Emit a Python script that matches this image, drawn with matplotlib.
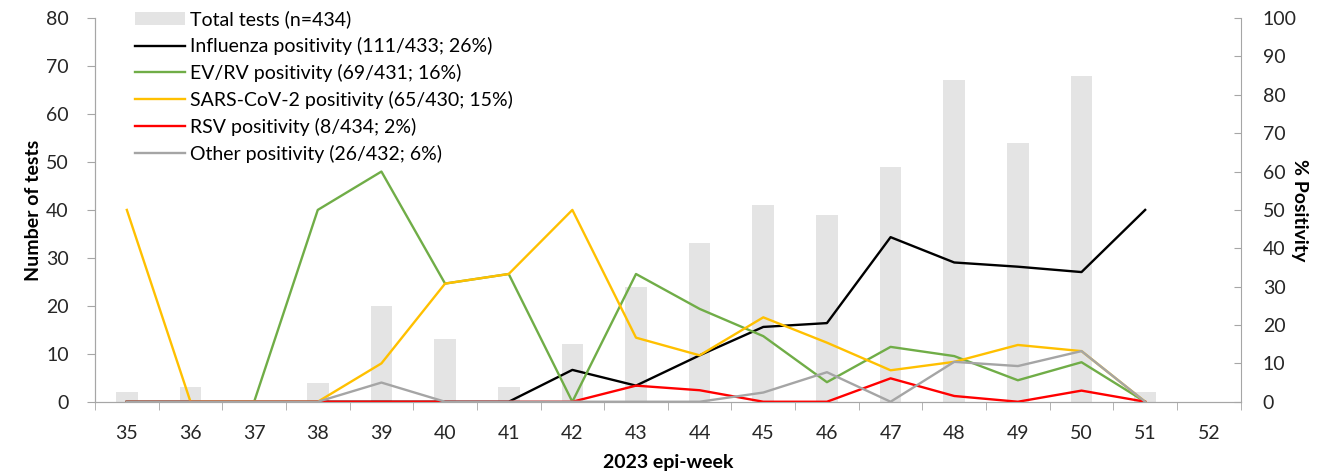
import numpy as np
import matplotlib.pyplot as plt
from matplotlib.ticker import FixedLocator

plt.rcParams['font.family'] = ['Lato', 'DejaVu Sans']

# epi-weeks shown on the x axis
weeks = ['35', '36', '37', '38', '39', '40', '41', '42', '43',
         '44', '45', '46', '47', '48', '49', '50', '51', '52']

# total tests per week (left axis)
total_tests = [2, 3, 0, 4, 20, 13, 3, 12, 24, 33, 41, 39, 49, 67, 54, 68, 2, 0]

# % positivity per week (right axis), weeks 35-51
influenza = [0, 0, 0, 0, 0, 0, 0, 8.3, 4.2, 12.1, 19.5, 20.5, 42.9, 36.3, 35.2, 33.8, 50]
ev_rv = [0, 0, 0, 50, 60, 30.8, 33.3, 0, 33.3, 24.2, 17.1, 5.1, 14.3, 11.9, 5.6, 10.3, 0]
sars = [50, 0, 0, 0, 10, 30.8, 33.3, 50, 16.7, 12.1, 22.0, 15.4, 8.2, 10.4, 14.8, 13.2, 0]
rsv = [0, 0, 0, 0, 0, 0, 0, 0, 4.2, 3.0, 0, 0, 6.1, 1.5, 0, 2.9, 0]
other = [0, 0, 0, 0, 5.0, 0, 0, 0, 0, 0, 2.4, 7.7, 0, 10.4, 9.3, 13.2, 0]

series = [
    ('Influenza positivity (111/433; 26%)', influenza, '#000000'),
    ('EV/RV positivity (69/431; 16%)', ev_rv, '#70ad47'),
    ('SARS-CoV-2 positivity (65/430; 15%)', sars, '#ffc000'),
    ('RSV positivity (8/434; 2%)', rsv, '#ff0000'),
    ('Other positivity (26/432; 6%)', other, '#a5a5a5'),
]

fig = plt.figure(figsize=(13.29, 4.76), dpi=100)
ax = fig.add_axes([0.0715, 0.156, 0.862, 0.806])
ax2 = ax.twinx()

x = np.arange(len(weeks))
bars = ax.bar(x, total_tests, width=0.34, color='#e4e4e4', label='Total tests (n=434)', zorder=1)

handles = [bars]
for name, vals, col in series:
    ln, = ax2.plot(x[:len(vals)], vals, color=col, lw=1.7, label=name)
    handles.append(ln)

axis_col = '#a6a6a6'
fs = 14
ax.set_xlim(-0.5, len(weeks) - 0.5)
ax.set_ylim(0, 80)
ax2.set_ylim(0, 100)
ax.set_yticks(range(0, 81, 10))
ax2.set_yticks(range(0, 101, 10))
ax.set_xticks(x)
ax.set_xticklabels(weeks)
ax.tick_params(axis='x', which='major', length=0, labelsize=fs, pad=17, colors='#262626')
ax.xaxis.set_minor_locator(FixedLocator(np.arange(-0.5, len(weeks), 1)))
ax.tick_params(axis='x', which='minor', length=6, color=axis_col, direction='out')
ax.tick_params(axis='y', length=6, color=axis_col, labelsize=fs, labelcolor='#262626', pad=13)
ax2.tick_params(axis='y', length=5, direction='in', color=axis_col, labelsize=fs,
                labelcolor='#262626', pad=16)

for a in (ax, ax2):
    a.spines['top'].set_visible(False)
    for s in ('left', 'right', 'bottom'):
        a.spines[s].set_color(axis_col)
ax.spines['right'].set_visible(False)

ax.set_ylabel('Number of tests', fontsize=fs, fontweight='bold', labelpad=3)
ax2.set_ylabel('% Positivity', fontsize=fs, fontweight='bold', rotation=-90, labelpad=8)
ax.set_xlabel('2023 epi-week', fontsize=fs, fontweight='bold')
ax.xaxis.set_label_coords(0.5, -0.135)

ax2.legend(handles=handles, loc='upper left', bbox_to_anchor=(0.028, 1.04), frameon=False,
           fontsize=fs, handlelength=2.6, handletextpad=0.25, labelspacing=0.455,
           borderaxespad=0)

fig.savefig('out.png', dpi=100)
